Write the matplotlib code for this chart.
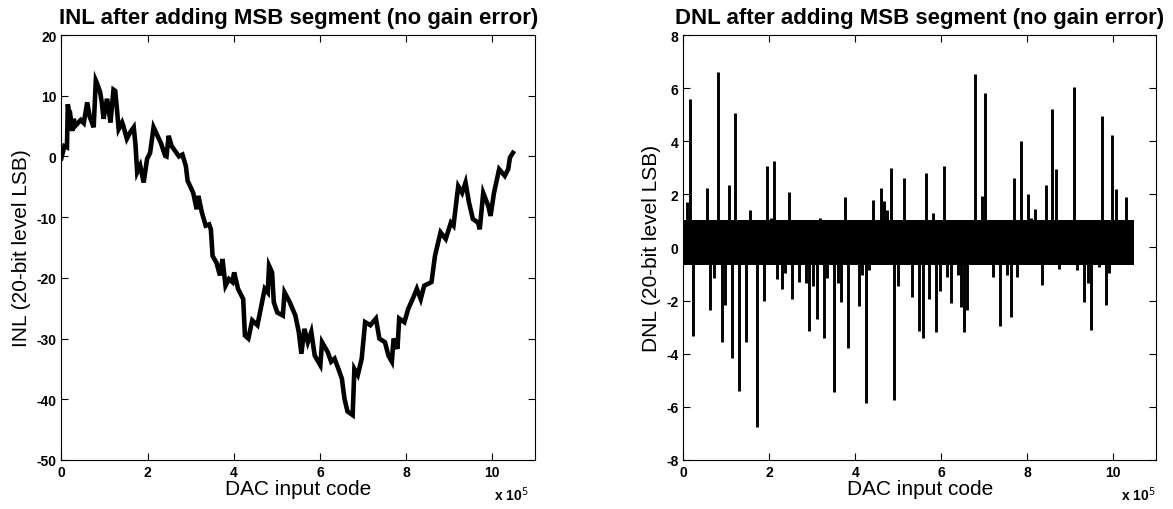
import matplotlib
matplotlib.use("Agg")
import matplotlib.pyplot as plt
from matplotlib.ticker import FuncFormatter, MultipleLocator

plt.rcParams['font.family'] = ['Liberation Sans', 'DejaVu Sans']
plt.rcParams['axes.unicode_minus'] = False

# ---------------- data ----------------
n_codes = 2 ** 20

# INL curve breakpoints (code in units of 1e5, value in LSB)
inl_code = [0.00, 0.07, 0.13, 0.15, 0.17, 0.20, 0.25, 0.29, 0.32, 0.45, 0.52, 0.60, 0.66, 0.75,
            0.80, 0.83, 0.90, 0.94, 0.98, 1.06, 1.10, 1.14, 1.21, 1.25, 1.29, 1.33, 1.41, 1.44,
            1.52, 1.60, 1.68, 1.72, 1.76, 1.83, 1.91, 1.99, 2.06, 2.14, 2.31, 2.41, 2.44, 2.49,
            2.56, 2.73, 2.81, 2.89, 2.93, 3.06, 3.14, 3.18, 3.26, 3.35, 3.43, 3.47, 3.51, 3.60,
            3.68, 3.74, 3.81, 3.89, 3.97, 4.01, 4.10, 4.22, 4.26, 4.34, 4.43, 4.55, 4.64, 4.72,
            4.79, 4.82, 4.89, 4.93, 5.01, 5.14, 5.18, 5.30, 5.43, 5.51, 5.57, 5.64, 5.72,
            5.80, 5.88, 6.01, 6.05, 6.18, 6.26, 6.34, 6.43, 6.51, 6.57, 6.64, 6.76, 6.80,
            6.88, 6.97, 7.05, 7.17, 7.30, 7.38, 7.51, 7.59, 7.67, 7.71, 7.80, 7.84, 7.96,
            8.05, 8.17, 8.25, 8.34, 8.42, 8.59, 8.67, 8.80, 8.92, 9.04, 9.10, 9.21, 9.30,
            9.38, 9.46, 9.55, 9.67, 9.71, 9.79, 9.91, 9.96, 10.04, 10.16, 10.29, 10.37,
            10.41, 10.48]
inl_value = [-0.3, 1.7, 1.5, 8.6, 7.7, 7.3, 4.2, 6.2, 5.0, 6.0, 5.5, 8.9, 6.5, 4.8,
             12.5, 12.0, 10.6, 8.8, 6.2, 9.5, 7.7, 5.6, 11.0, 10.8, 7.8, 4.5, 5.6, 5.0,
             2.9, 4.0, 4.8, 2.0, -2.6, -1.5, -4.3, -0.4, 0.6, 4.8, 2.2, 0.1, 0.0, 3.4,
             1.7, 0.0, 0.3, -1.6, -4.0, -6.0, -8.7, -6.5, -9.2, -11.4, -11.2, -12.0, -16.4, -17.5,
             -19.6, -16.9, -21.3, -20.2, -20.7, -19.1, -21.8, -23.5, -29.5, -30.0, -27.0, -27.8, -24.6, -21.8,
             -22.4, -18.0, -19.1, -24.0, -25.7, -26.2, -22.4, -24.0, -26.2, -28.9, -32.5, -28.4, -30.6,
             -28.9, -32.8, -34.4, -30.6, -32.2, -33.8, -33.3, -35.0, -36.6, -39.9, -42.0, -42.6, -35.0,
             -36.0, -33.3, -27.3, -27.8, -26.7, -30.0, -30.6, -32.8, -33.8, -30.0, -31.7, -26.7, -27.3,
             -25.1, -23.2, -21.8, -23.5, -21.3, -20.7, -16.4, -12.5, -13.6, -10.9, -11.4, -4.9, -6.0,
             -4.3, -7.6, -10.3, -10.9, -12.0, -6.0, -8.2, -9.8, -6.0, -2.1, -3.2, -2.1,
             -0.2, 0.6]

# DNL: dense band of small errors
dnl_band_low = -0.66
dnl_band_high = 1.03

# DNL spikes (code in units of 1e5, value in LSB)
dnl_pos_code = [0.088, 0.158, 0.563, 0.818, 1.055, 1.214, 1.557, 1.952, 2.04, 2.11, 2.454,
                3.19, 3.764, 4.406, 4.59, 4.67, 4.74, 4.83, 5.136, 5.646, 5.80, 6.06, 6.80,
                6.957, 7.027, 7.695, 7.854, 8.02, 8.10, 8.19, 8.434, 8.584, 8.672, 9.094,
                9.26, 9.754, 9.982, 10.07, 10.31]
dnl_pos_value = [1.7, 5.6, 2.25, 6.6, 2.35, 5.05, 1.4, 3.05, 1.1, 3.25, 2.1,
                 1.1, 1.9, 1.8, 2.25, 1.75, 1.4, 3.0, 2.6, 2.8, 1.3, 3.05, 6.55,
                 1.95, 5.8, 2.6, 4.0, 2.0, 1.1, 1.45, 2.35, 5.2, 2.95, 6.05,
                 1.05, 4.95, 4.25, 2.2, 1.9]
dnl_neg_code = [0.237, 0.633, 0.72, 0.897, 0.976, 1.135, 1.30, 1.46, 1.706, 1.88, 2.19,
                2.296, 2.37, 2.533, 2.69, 2.86, 2.93, 3.02, 3.105, 3.27, 3.34, 3.51, 3.59,
                3.667, 3.84, 4.08, 4.17, 4.25, 4.33, 4.91, 4.99, 5.32, 5.49, 5.567, 5.72,
                5.884, 5.97, 6.14, 6.22, 6.39, 6.46, 6.54, 6.61, 7.20, 7.36, 7.54, 7.62,
                7.77, 8.35, 8.75, 9.17, 9.33, 9.41, 9.49, 9.67, 9.83, 9.91]
dnl_neg_value = [-3.35, -2.35, -1.15, -3.55, -2.15, -4.15, -5.4, -3.55, -6.75, -2.0, -1.2,
                 -1.55, -0.95, -1.95, -1.3, -1.35, -3.15, -1.45, -2.7, -3.4, -1.15, -5.45, -1.35,
                 -2.05, -3.8, -2.2, -1.05, -5.85, -0.85, -5.75, -1.45, -1.85, -3.15, -3.4, -1.95,
                 -3.2, -1.65, -1.1, -2.1, -1.05, -2.25, -3.2, -2.35, -1.1, -2.95, -1.05, -2.6,
                 -1.1, -1.4, -0.8, -0.85, -2.05, -1.35, -3.1, -0.75, -2.15, -0.95]

titles = ["INL after adding MSB segment (no gain error)",
          "DNL after adding MSB segment (no gain error)"]
ylabels = ["INL (20-bit level LSB)", "DNL (20-bit level LSB)"]
xlabel = "DAC input code"

# ---------------- figure ----------------
fig = plt.figure(figsize=(11.73, 5.10), dpi=100)
ax1 = fig.add_axes([0.0523, 0.0961, 0.4041, 0.8333])
ax2 = fig.add_axes([0.5825, 0.0961, 0.4030, 0.8333])

scale = 1e5
ax1.plot([c * scale for c in inl_code], inl_value, color='black', lw=3.3,
         solid_joinstyle='miter')
ax1.set_xlim(0, 11e5)
ax1.set_ylim(-50, 20)
ax1.yaxis.set_major_locator(MultipleLocator(10))

ax2.fill_between([0, n_codes], dnl_band_low, dnl_band_high, color='black', lw=0)
ax2.vlines([c * scale for c in dnl_pos_code], 0, dnl_pos_value, color='black', lw=2.1)
ax2.vlines([c * scale for c in dnl_neg_code], 0, dnl_neg_value, color='black', lw=2.1)
ax2.set_xlim(0, 11e5)
ax2.set_ylim(-8, 8)
ax2.yaxis.set_major_locator(MultipleLocator(2))

fmt = FuncFormatter(lambda v, p: f"{v / scale:g}")
for ax, t, yl, xo in zip([ax1, ax2], titles, ylabels, [0.985, 1.0]):
    ax.xaxis.set_major_locator(MultipleLocator(2e5))
    ax.xaxis.set_major_formatter(fmt)
    ax.tick_params(direction='in', top=True, right=True, length=5, width=0.8,
                   labelsize=10, pad=3.5)
    for lab in ax.get_xticklabels() + ax.get_yticklabels():
        lab.set_fontweight('bold')
    for s in ax.spines.values():
        s.set_linewidth(0.8)
    ax.set_title(t, fontsize=16, fontweight='bold', pad=9)
    ax.set_xlabel(xlabel, fontsize=15, labelpad=0)
    ax.set_ylabel(yl, fontsize=15, labelpad=4)
    ax.text(xo, -0.058, r"x 10$^{5}$", transform=ax.transAxes, ha='right', va='top',
            fontsize=10, fontweight='bold')

fig.savefig("out.png", dpi=100)
